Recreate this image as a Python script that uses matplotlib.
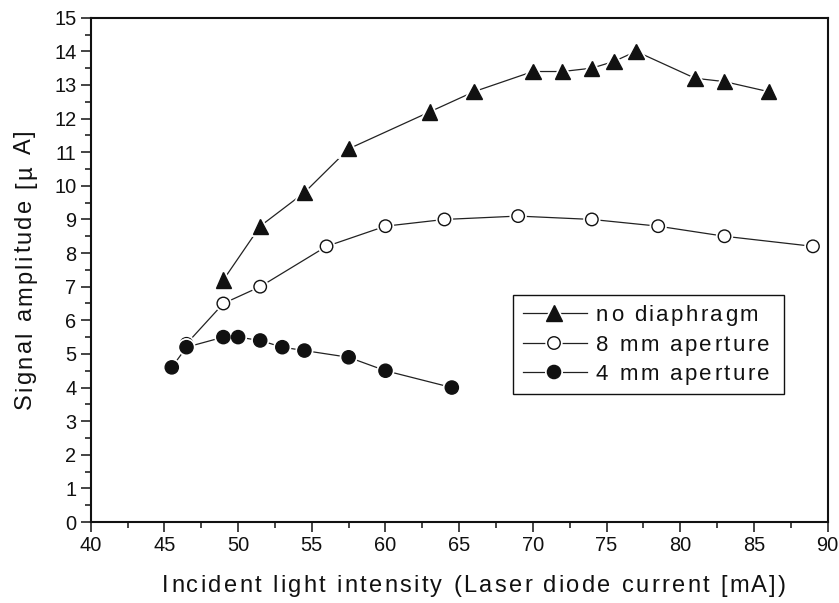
import matplotlib
matplotlib.use("Agg")
import matplotlib.pyplot as plt
import matplotlib.patheffects as pe
from matplotlib.lines import Line2D
from matplotlib.patches import Rectangle
from matplotlib.font_manager import FontProperties
from matplotlib.ticker import MultipleLocator

plt.rcParams['font.family'] = ['Liberation Sans', 'DejaVu Sans']

# laser diode current [mA] vs. signal amplitude [uA]
no_diaph_x = [49, 51.5, 54.5, 57.5, 63, 66, 70, 72, 74, 75.5, 77, 81, 83, 86]
no_diaph_y = [7.2, 8.8, 9.8, 11.1, 12.2, 12.8, 13.4, 13.4, 13.5, 13.7, 14.0, 13.2, 13.1, 12.8]

ap8_x = [46.5, 49, 51.5, 56, 60, 64, 69, 74, 78.5, 83, 89]
ap8_y = [5.3, 6.5, 7.0, 8.2, 8.8, 9.0, 9.1, 9.0, 8.8, 8.5, 8.2]

ap4_x = [45.5, 46.5, 49, 50, 51.5, 53, 54.5, 57.5, 60, 64.5]
ap4_y = [4.6, 5.2, 5.5, 5.5, 5.4, 5.2, 5.1, 4.9, 4.5, 4.0]

labels = ['no diaphragm', '8 mm aperture', '4 mm aperture']
xlabel = 'Incident light intensity (Laser diode current [mA])'
ylabel = 'Signal amplitude [\u00b5 A]'

W, H = 839, 603
fig = plt.figure(figsize=(W / 100, H / 100), dpi=100)
ax = fig.add_axes([0.1081, 0.1343, 0.8784, 0.8363])
renderer = fig.canvas.get_renderer()


def spaced_text(s, x, y, size, gap, rotation=0, ha='center'):
    """Draw s letter by letter (pixel coords, origin top-left) with extra tracking."""
    fp = FontProperties(family='Liberation Sans', size=size)
    bar = renderer.get_text_width_height_descent('||', fp, ismath=False)[0]

    def adv(t):
        return renderer.get_text_width_height_descent('|' + t + '|', fp, ismath=False)[0] - bar

    total = adv(s) + (len(s) - 1) * gap
    start = -total / 2 if ha == 'center' else 0
    for i, ch in enumerate(s):
        d = start + adv(s[:i]) + i * gap
        if rotation:
            px, py = x, (H - y) + d
        else:
            px, py = x + d, H - y
        fig.text(px / W, py / H, ch, fontproperties=fp, ha='left', va='baseline',
                 rotation=rotation, rotation_mode='anchor', color='#111111', zorder=8)


halo = [pe.Stroke(linewidth=3.5, foreground='white'), pe.Normal()]
styles = [
    dict(marker='^', ms=11, mfc='#111111', mec='#111111'),
    dict(marker='o', ms=9, mfc='white', mec='#111111', mew=1.0),
    dict(marker='o', ms=9.5, mfc='#111111', mec='#111111'),
]
for x, y, mk in zip([no_diaph_x, ap8_x, ap4_x], [no_diaph_y, ap8_y, ap4_y], styles):
    ax.plot(x, y, color='#222222', lw=0.9, zorder=2)
    ax.plot(x, y, ls='none', zorder=3, path_effects=halo, **mk)

ax.set_xlim(40, 90)
ax.set_ylim(0, 15)
ax.xaxis.set_major_locator(MultipleLocator(5))
ax.xaxis.set_minor_locator(MultipleLocator(2.5))
ax.yaxis.set_major_locator(MultipleLocator(1))
ax.yaxis.set_minor_locator(MultipleLocator(0.5))
ax.tick_params(which='both', direction='out', width=1.1, labelsize=14.4, pad=3.3,
               colors='#111111')
ax.tick_params(which='major', length=7)
ax.tick_params(which='minor', length=4)
for sp in ax.spines.values():
    sp.set_linewidth(1.5)
    sp.set_color('#111111')

# axis titles
spaced_text(xlabel, 474, 592, 17, 2.3)
spaced_text(ylabel, 31, 270, 17, 2.3, rotation=90)

# legend box
box_l, box_t, box_r, box_b = 513, 295, 784, 394
fig.add_artist(Rectangle((box_l / W, 1 - box_b / H), (box_r - box_l) / W, (box_b - box_t) / H,
                         transform=fig.transFigure, fill=True, facecolor='white',
                         edgecolor='#111111', lw=1.0, zorder=5))
for row_y, lab, mk in zip([313, 343, 372], labels, styles):
    fy = 1 - row_y / H
    fig.add_artist(Line2D([523 / W, 587 / W], [fy, fy], transform=fig.transFigure,
                          color='#222222', lw=0.9, zorder=6))
    fig.add_artist(Line2D([554 / W], [fy], transform=fig.transFigure, ls='none',
                          path_effects=halo, zorder=7, **mk))
    spaced_text(lab, 596, row_y + 8, 16, 2.4, ha='left')

fig.savefig('out.png', dpi=100)
